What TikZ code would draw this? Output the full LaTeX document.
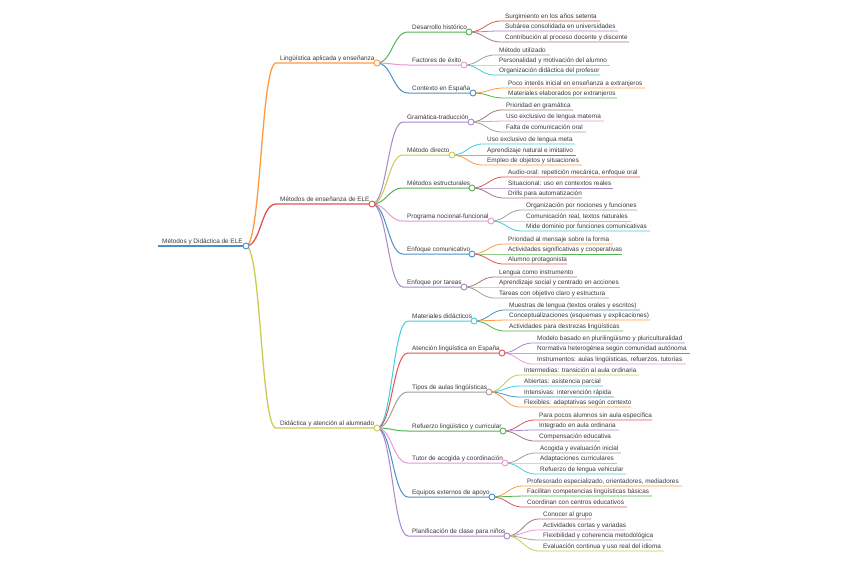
\documentclass[tikz,border=0pt]{standalone}
\usepackage{fontspec}
\setmainfont{Liberation Sans}
\definecolor{cB}{HTML}{4A92C6}
\definecolor{cO}{HTML}{FF9A40}
\definecolor{cG}{HTML}{53B553}
\definecolor{cR}{HTML}{DE5556}
\definecolor{cP}{HTML}{A987CC}
\definecolor{cN}{HTML}{A37D74}
\definecolor{cK}{HTML}{EA98D2}
\definecolor{cY}{HTML}{A0A0A0}
\definecolor{cL}{HTML}{CBCB50}
\definecolor{cC}{HTML}{44CDDB}
\definecolor{txt}{HTML}{3A3A3A}
\tikzset{
  lbl/.style={inner sep=0pt, text=txt, font=\fontsize{6.4}{7}\selectfont},
  d0/.style={line width=2pt},
  d1/.style={line width=1.3pt},
  d2/.style={line width=1pt},
  d3/.style={line width=0.8pt},
  knob/.style={circle, draw, fill=white, line width=0.9pt, minimum size=6pt, inner sep=0pt}
}
\newcommand{\mmroot}[5]{%
  \coordinate (#1-s) at (#2,#3); \coordinate (#1-e) at (#4,#3);
  \node[lbl,anchor=base west] (#1) at ([shift={(4pt,2.2pt)}]#1-s) {#5};
  \draw[cB,d0] (#1-s) -- (#1-e);}
\newcommand{\mmn}[8]{%
  \coordinate (#1-s) at (#3,#4); \coordinate (#1-e) at (#5,#4);
  \node[lbl,anchor=base west] (#1) at ([shift={(4pt,2.2pt)}]#1-s) {#8};
  \draw[#6,#7] (#2-e) .. controls +(15pt,0pt) and +(-15pt,0pt) .. (#1-s) -- (#1-e);}
\newcommand{\mmk}[2]{\node[knob,draw=#2] (#1-k) at (#1-e) {};}
\begin{document}
\begin{tikzpicture}[x=1pt,y=-1pt]
\fill[white] (0,0) rectangle (848,565);
\useasboundingbox (0,0) rectangle (848,565);
\mmroot{R}{158}{246}{246}{Métodos y Didáctica de ELE}
% Branch A
\mmn{A}{R}{276}{63}{377}{cO}{d1}{Lingüística aplicada y enseñanza}
\mmn{A1}{A}{408}{32}{469}{cG}{d2}{Desarrollo histórico}
\mmn{A1a}{A1}{501}{21}{600}{cR}{d3}{Surgimiento en los años setenta}
\mmn{A1b}{A1}{501}{31}{618}{cP}{d3}{Subárea consolidada en universidades}
\mmn{A1c}{A1}{501}{42}{629}{cN}{d3}{Contribución al proceso docente y discente}
\mmn{A2}{A}{408}{65}{464}{cK}{d2}{Factores de éxito}
\mmn{A2a}{A2}{495}{55}{550}{cY}{d3}{Método utilizado}
\mmn{A2b}{A2}{495}{65}{610}{cL}{d3}{Personalidad y motivación del alumno}
\mmn{A2c}{A2}{495}{75}{600}{cC}{d3}{Organización didáctica del profesor}
\mmn{A3}{A}{408}{93}{473}{cB}{d2}{Contexto en España}
\mmn{A3a}{A3}{504}{88}{645}{cO}{d3}{Poco interés inicial en enseñanza a extranjeros}
\mmn{A3b}{A3}{504}{98}{617}{cG}{d3}{Materiales elaborados por extranjeros}
% Branch B
\mmn{B}{R}{276}{204}{372}{cR}{d1}{Métodos de enseñanza de ELE}
\mmn{B1}{B}{403}{122}{471}{cP}{d2}{Gramática-traducción}
\mmn{B1a}{B1}{502}{110}{573}{cN}{d3}{Prioridad en gramática}
\mmn{B1b}{B1}{502}{121}{604}{cK}{d3}{Uso exclusivo de lengua materna}
\mmn{B1c}{B1}{502}{132}{586}{cY}{d3}{Falta de comunicación oral}
\mmn{B2}{B}{403}{155}{452}{cL}{d2}{Método directo}
\mmn{B2a}{B2}{483}{144}{575}{cC}{d3}{Uso exclusivo de lengua meta}
\mmn{B2b}{B2}{483}{155}{576}{cB}{d3}{Aprendizaje natural e imitativo}
\mmn{B2c}{B2}{483}{165}{582}{cO}{d3}{Empleo de objetos y situaciones}
\mmn{B3}{B}{403}{188}{472}{cG}{d2}{Métodos estructurales}
\mmn{B3a}{B3}{504}{177}{640}{cR}{d3}{Audio-oral: repetición mecánica, enfoque oral}
\mmn{B3b}{B3}{504}{188}{613}{cP}{d3}{Situacional: uso en contextos reales}
\mmn{B3c}{B3}{504}{198}{582}{cN}{d3}{Drills para automatización}
\mmn{B4}{B}{403}{221}{491}{cK}{d2}{Programa nocional-funcional}
\mmn{B4a}{B4}{522}{210}{637}{cY}{d3}{Organización por nociones y funciones}
\mmn{B4b}{B4}{522}{221}{631}{cL}{d3}{Comunicación real, textos naturales}
\mmn{B4c}{B4}{522}{231}{650}{cC}{d3}{Mide dominio por funciones comunicativas}
\mmn{B5}{B}{403}{254}{472}{cB}{d2}{Enfoque comunicativo}
\mmn{B5a}{B5}{504}{244}{613}{cO}{d3}{Prioridad al mensaje sobre la forma}
\mmn{B5b}{B5}{504}{254}{622}{cG}{d3}{Actividades significativas y cooperativas}
\mmn{B5c}{B5}{504}{264}{567}{cR}{d3}{Alumno protagonista}
\mmn{B6}{B}{403}{287}{464}{cP}{d2}{Enfoque por tareas}
\mmn{B6a}{B6}{495}{277}{577}{cN}{d3}{Lengua como instrumento}
\mmn{B6b}{B6}{495}{287}{620}{cK}{d3}{Aprendizaje social y centrado en acciones}
\mmn{B6c}{B6}{495}{298}{609}{cY}{d3}{Tareas con objetivo claro y estructura}
% Branch C
\mmn{C}{R}{276}{428}{377}{cL}{d1}{Didáctica y atención al alumnado}
\mmn{C1}{C}{408}{321}{474}{cC}{d2}{Materiales didácticos}
\mmn{C1a}{C1}{505}{310}{640}{cB}{d3}{Muestras de lengua (textos orales y escritos)}
\mmn{C1b}{C1}{505}{320}{650}{cO}{d3}{Conceptualizaciones (esquemas y explicaciones)}
\mmn{C1c}{C1}{505}{331}{623}{cG}{d3}{Actividades para destrezas lingüísticas}
\mmn{C2}{C}{408}{353}{502}{cR}{d2}{Atención lingüística en España}
\mmn{C2a}{C2}{533}{343}{685}{cP}{d3}{Modelo basado en plurilingüismo y pluriculturalidad}
\mmn{C2b}{C2}{533}{353}{690}{cN}{d3}{Normativa heterogénea según comunidad autónoma}
\mmn{C2c}{C2}{533}{364}{686}{cK}{d3}{Instrumentos: aulas lingüísticas, refuerzos, tutorías}
\mmn{C3}{C}{408}{392}{489}{cY}{d2}{Tipos de aulas lingüísticas}
\mmn{C3a}{C3}{520}{375}{639}{cL}{d3}{Intermedias: transición al aula ordinaria}
\mmn{C3b}{C3}{520}{386}{603}{cC}{d3}{Abiertas: asistencia parcial}
\mmn{C3c}{C3}{520}{397}{614}{cB}{d3}{Intensivas: intervención rápida}
\mmn{C3d}{C3}{520}{407}{631}{cO}{d3}{Flexibles: adaptativas según contexto}
\mmn{C4}{C}{408}{431}{503}{cG}{d2}{Refuerzo lingüístico y curricular}
\mmn{C4a}{C4}{535}{420}{652}{cR}{d3}{Para pocos alumnos sin aula específica}
\mmn{C4b}{C4}{535}{430}{619}{cP}{d3}{Integrado en aula ordinaria}
\mmn{C4c}{C4}{535}{441}{600}{cN}{d3}{Compensación educativa}
\mmn{C5}{C}{408}{463}{505}{cK}{d2}{Tutor de acogida y coordinación}
\mmn{C5a}{C5}{536}{453}{621}{cY}{d3}{Acogida y evaluación inicial}
\mmn{C5b}{C5}{536}{463}{617}{cL}{d3}{Adaptaciones curriculares}
\mmn{C5c}{C5}{536}{474}{626}{cC}{d3}{Refuerzo de lengua vehicular}
\mmn{C6}{C}{408}{497}{492}{cB}{d2}{Equipos externos de apoyo}
\mmn{C6a}{C6}{523}{486}{682}{cO}{d3}{Profesorado especializado, orientadores, mediadores}
\mmn{C6b}{C6}{523}{496}{652}{cG}{d3}{Facilitan competencias lingüísticas básicas}
\mmn{C6c}{C6}{523}{507}{627}{cR}{d3}{Coordinan con centros educativos}
\mmn{C7}{C}{408}{536}{507}{cP}{d2}{Planificación de clase para niños}
\mmn{C7a}{C7}{539}{519}{591}{cN}{d3}{Conocer al grupo}
\mmn{C7b}{C7}{539}{530}{625}{cK}{d3}{Actividades cortas y variadas}
\mmn{C7c}{C7}{539}{540}{652}{cY}{d3}{Flexibilidad y coherencia metodológica}
\mmn{C7d}{C7}{539}{551}{664}{cL}{d3}{Evaluación continua y uso real del idioma}
% knobs
\mmk{R}{cB}
\mmk{A}{cO}\mmk{B}{cR}\mmk{C}{cL}
\mmk{A1}{cG}\mmk{A2}{cK}\mmk{A3}{cB}
\mmk{B1}{cP}\mmk{B2}{cL}\mmk{B3}{cG}\mmk{B4}{cK}\mmk{B5}{cB}\mmk{B6}{cP}
\mmk{C1}{cC}\mmk{C2}{cR}\mmk{C3}{cY}\mmk{C4}{cG}\mmk{C5}{cK}\mmk{C6}{cB}\mmk{C7}{cP}
\end{tikzpicture}
\end{document}
